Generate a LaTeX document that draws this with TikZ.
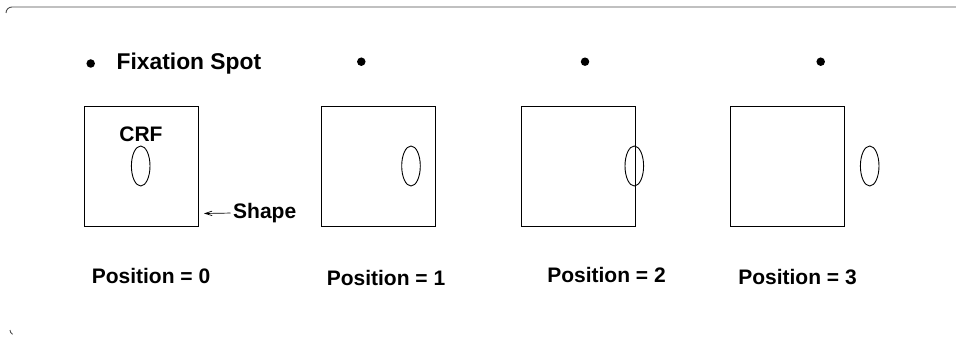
\documentclass[tikz,border=0pt]{standalone}
\usepackage{fontspec}
\setmainfont{Liberation Sans}
\usetikzlibrary{shapes.geometric,arrows.meta}
\begin{document}
\begin{tikzpicture}[x=1pt,y=-1pt,
  lbl/.style={font=\fontsize{21}{24}\selectfont\bfseries, inner sep=0pt},
  rf/.style={draw, ellipse, line width=0.9pt, minimum width=18.6pt, minimum height=40pt, inner sep=0pt},
  stim/.style={draw, line width=0.9pt, minimum width=114pt, minimum height=120pt, inner sep=0pt},
  spot/.style={fill, circle, minimum size=8.5pt, inner sep=0pt},
  frame/.style={draw=black!70, line width=0.9pt}]
\useasboundingbox (0,0) rectangle (956,337);
% frame fragments
\draw[frame] (6,13) arc[start angle=180, end angle=270, radius=6] -- (956,7);
\draw[frame] (10,330) arc[start angle=180, end angle=120, radius=5];
% fixation spots
\node[spot] (d0) at (90.7,63.5) {};
\node[spot] (d1) at (361.3,61.7) {};
\node[spot] (d2) at (585,61.7) {};
\node[spot] (d3) at (820.7,61.7) {};
\node[lbl, anchor=west, font=\fontsize{22.8}{26}\selectfont\bfseries] (fix) at (116.5,64) {Fixation Spot};
% stimulus boxes
\node[stim] (b0) at (141.3,166) {};
\node[stim] (b1) at (378.4,166) {};
\node[stim] (b2) at (578.7,166) {};
\node[stim] (b3) at (787.5,166) {};
% receptive fields
\node[rf] (e0) at (140.7,166) {};
\node[rf] (e1) at (411,166) {};
\node[rf] (e2) at (634.3,166) {};
\node[rf] (e3) at (869.7,166) {};
\node[lbl] (crf) at (141,134.5) {CRF};
% shape label and arrow
\node[lbl, anchor=west] (shp) at (233,213) {Shape};
\coordinate (tip) at (204,213.5);
\draw[line width=0.7pt, shorten <=2.5pt, -{Straight Barb[length=7pt,width=4.5pt]}] (shp.west) -- (tip);
% position labels
\node[lbl] (p0) at (151,276) {Position = 0};
\node[lbl] (p1) at (386,278) {Position = 1};
\node[lbl] (p2) at (606.5,275) {Position = 2};
\node[lbl] (p3) at (797.5,277) {Position = 3};
\end{tikzpicture}
\end{document}
